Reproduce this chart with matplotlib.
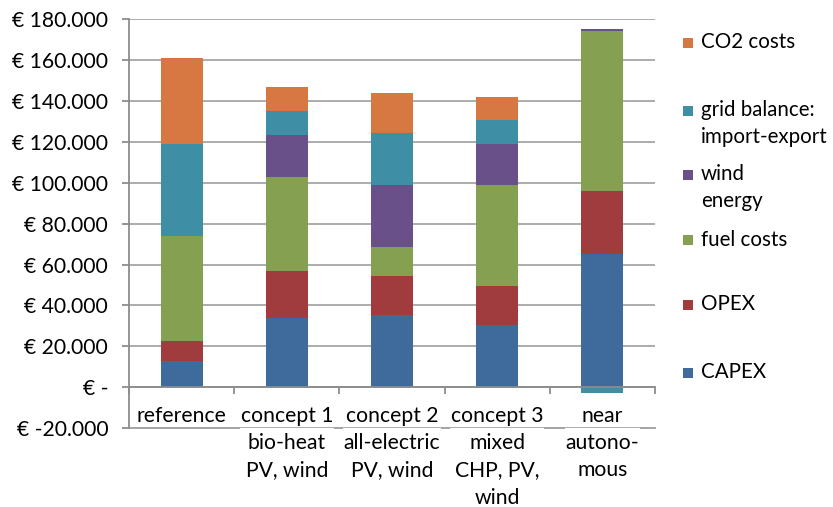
import matplotlib
matplotlib.use("Agg")
import matplotlib.pyplot as plt
from matplotlib.patches import Rectangle
from matplotlib.ticker import FixedLocator, FuncFormatter

plt.rcParams["font.family"] = ["Lato", "DejaVu Sans"]

categories = [
    "reference",
    "concept 1\nbio-heat\nPV, wind",
    "concept 2\nall-electric\nPV, wind",
    "concept 3\nmixed\nCHP, PV,\nwind",
    "near\nautono-\nmous",
]

series_names = ["CAPEX", "OPEX", "fuel costs", "wind\nenergy",
                "grid balance:\nimport-export", "CO2 costs"]
capex = [13000, 33900, 35400, 30500, 65200]
opex = [9500, 23000, 19100, 19100, 31000]
fuel_costs = [51700, 45800, 13900, 49100, 78200]
wind_energy = [0, 20500, 30300, 20000, 700]
grid_balance = [44800, 12100, 25400, 12200, -2800]
co2_costs = [42200, 11700, 19600, 11200, 0]

y_ticks = [-20000, 0, 20000, 40000, 60000, 80000, 100000, 120000, 140000,
           160000, 180000]

colors = ["#3F6A9C", "#A03B3E", "#84A050", "#6A5088", "#3E8FA6", "#D77842"]
series = [capex, opex, fuel_costs, wind_energy, grid_balance, co2_costs]

FS = 15.2

fig = plt.figure(figsize=(8.33, 5.07), dpi=100)
ax = fig.add_axes([129 / 833, 1 - 428.2 / 507, (655 - 129) / 833,
                   (428.2 - 19.1) / 507])

x = list(range(len(categories)))
pos = [0.0] * len(categories)
neg = [0.0] * len(categories)
for vals, col in zip(series, colors):
    bottoms = []
    for i, v in enumerate(vals):
        if v >= 0:
            bottoms.append(pos[i])
            pos[i] += v
        else:
            bottoms.append(neg[i])
            neg[i] += v
    ax.bar(x, vals, bottom=bottoms, width=0.4, color=col, zorder=2)

ax.set_xlim(-0.5, len(categories) - 0.5)
ax.set_ylim(y_ticks[0], y_ticks[-1])

grid_col = "#A6A6A6"
ax.yaxis.set_major_locator(FixedLocator(y_ticks))


def euro(v, _):
    if v == 0:
        return "€ -"
    return "€ " + f"{int(v):,}".replace(",", ".")


ax.yaxis.set_major_formatter(FuncFormatter(euro))
ax.grid(axis="y", color=grid_col, linewidth=1.3, zorder=0)
ax.set_axisbelow(True)
# lowest gridline sits on the axes edge; draw it unclipped
ax.axhline(y_ticks[0], color=grid_col, linewidth=1.4, clip_on=False,
           zorder=0.5)

for side in ["top", "right"]:
    ax.spines[side].set_visible(False)
ax.spines["left"].set_color("#8C8C8C")
ax.spines["left"].set_linewidth(1.3)
ax.spines["bottom"].set_position(("data", 0))
ax.spines["bottom"].set_color("#8C8C8C")
ax.spines["bottom"].set_linewidth(1.3)
ax.spines["bottom"].set_zorder(3)

ax.tick_params(axis="y", direction="out", length=5, width=1.3,
               color="#8C8C8C", labelsize=FS, pad=10, labelcolor="black")

# category boundary ticks on the zero line, labels at the centres
boundaries = [i + 0.5 for i in range(-1, len(categories))]
ax.set_xticks(boundaries)
ax.set_xticklabels([""] * len(boundaries))
ax.tick_params(axis="x", which="major", direction="out", length=5, width=1.3,
               color="#8C8C8C")
ax.set_xticks(x, minor=True)
ax.set_xticklabels(categories, minor=True)
ax.tick_params(axis="x", which="minor", length=0, pad=13.5, labelsize=FS)
for lbl in ax.get_xticklabels(minor=True):
    lbl.set_linespacing(1.45)
    lbl.set_bbox(dict(facecolor="white", edgecolor="none", pad=0.6))
    lbl.set_zorder(4)

# legend entries, top to bottom
legend_rows = [
    ("CO2 costs", colors[5], 43),
    ("grid balance:\nimport-export", colors[4], 111),
    ("wind\nenergy", colors[3], 175),
    ("fuel costs", colors[2], 240),
    ("OPEX", colors[1], 305),
    ("CAPEX", colors[0], 373),
]
for label, col, ypx in legend_rows:
    fig.patches.append(Rectangle((683 / 833, 1 - (ypx + 5) / 507), 10 / 833,
                                 10 / 507, transform=fig.transFigure,
                                 facecolor=col, edgecolor="none"))
    fig.text(701 / 833, 1 - (ypx - 10.5) / 507, label, fontsize=14.8,
             va="top", ha="left", linespacing=1.4)

fig.savefig("out.png", dpi=100)
